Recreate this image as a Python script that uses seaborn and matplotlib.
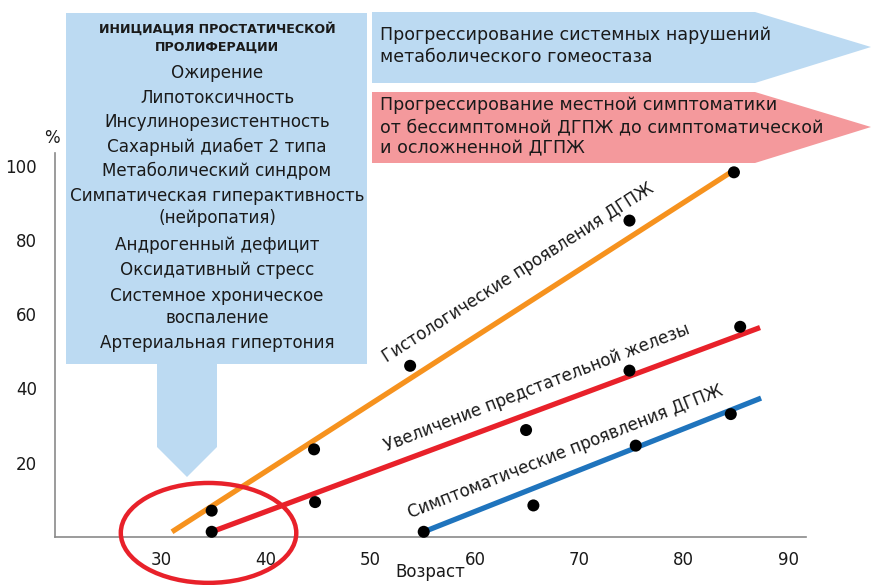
import matplotlib
matplotlib.use("Agg")
import matplotlib.pyplot as plt
from matplotlib.patches import Polygon, Ellipse
import seaborn as sns
import pandas as pd

# --- data -----------------------------------------------------------------
# observed prevalence (%) by age
hist_age = [34.8, 44.6, 53.8, 74.8, 84.8]
hist_pct = [7.1, 23.6, 46.1, 85.2, 98.2]
enl_age = [34.8, 44.7, 64.9, 74.8, 85.4]
enl_pct = [1.4, 9.4, 28.8, 44.8, 56.6]
sym_age = [55.1, 65.6, 75.4, 84.5]
sym_pct = [1.4, 8.5, 24.6, 33.1]

# trend lines (start / end)
hist_trend_age = [31.0, 84.6]
hist_trend_pct = [1.4, 98.4]
enl_trend_age = [34.8, 87.3]
enl_trend_pct = [1.4, 56.4]
sym_trend_age = [55.1, 87.4]
sym_trend_pct = [1.4, 37.4]

x_ticks = [30, 40, 50, 60, 70, 80, 90]
y_ticks = [20, 40, 60, 80, 100]

label_hist = "Гистологические проявления ДГПЖ"
label_enl = "Увеличение предстательной железы"
label_sym = "Симптоматические проявления ДГПЖ"

box_title = "ИНИЦИАЦИЯ ПРОСТАТИЧЕСКОЙ\nПРОЛИФЕРАЦИИ"
box_items = [
    "Ожирение",
    "Липотоксичность",
    "Инсулинорезистентность",
    "Сахарный диабет 2 типа",
    "Метаболический синдром",
    "Симпатическая гиперактивность\n(нейропатия)",
    "Андрогенный дефицит",
    "Оксидативный стресс",
    "Системное хроническое\nвоспаление",
    "Артериальная гипертония",
]
arrow_blue_text = "Прогрессирование системных нарушений\nметаболического гомеостаза"
arrow_red_text = ("Прогрессирование местной симптоматики\n"
                  "от бессимптомной ДГПЖ до симптоматической\n"
                  "и осложненной ДГПЖ")

# --- style ----------------------------------------------------------------
sns.set_theme(style="white")
plt.rcParams["font.family"] = ["DejaVu Sans"]

ORANGE = "#f6921e"
RED = "#e8212a"
BLUE = "#1f74bd"
LIGHT_BLUE = "#bcdaf2"
PINK = "#f4999c"
AXIS_GREY = "#8a8a8a"
TXT = "#1a1a1a"

W, H = 871, 585
fig = plt.figure(figsize=(W / 100, H / 100), dpi=100)


def fx(x):
    return x / W


def fy(y):
    return 1 - y / H


def fp(x, y):
    return (fx(x), fy(y))


ax = fig.add_axes([fx(55), fy(537), fx(806) - fx(55), fy(153) - fy(537)])

lines = pd.DataFrame({
    "age": hist_trend_age + enl_trend_age + sym_trend_age,
    "pct": hist_trend_pct + enl_trend_pct + sym_trend_pct,
    "series": ["hist"] * 2 + ["enl"] * 2 + ["sym"] * 2,
})
palette = {"hist": ORANGE, "enl": RED, "sym": BLUE}
sns.lineplot(data=lines, x="age", y="pct", hue="series", palette=palette,
             linewidth=3.8, legend=False, ax=ax, zorder=2,
             solid_capstyle="butt")

points = pd.DataFrame({
    "age": hist_age + enl_age + sym_age,
    "pct": hist_pct + enl_pct + sym_pct,
})
sns.scatterplot(data=points, x="age", y="pct", color="black", s=75,
                edgecolor="none", ax=ax, zorder=3, clip_on=False)

ax.set_xlim(19.8, 91.7)
ax.set_ylim(0, 103.4)
ax.set_xticks(x_ticks)
ax.set_yticks(y_ticks)
ax.set_xlabel("")
ax.set_ylabel("")
for side in ("top", "right"):
    ax.spines[side].set_visible(False)
for side in ("left", "bottom"):
    ax.spines[side].set_color(AXIS_GREY)
    ax.spines[side].set_linewidth(1.2)
ax.tick_params(axis="both", direction="in", length=6, width=1.0,
               color=AXIS_GREY, labelsize=12, labelcolor=TXT)
ax.tick_params(axis="x", pad=10)
ax.tick_params(axis="y", pad=13)
ax.patch.set_alpha(0)

# circled starting region
ax.add_patch(Ellipse((34.5, 1.1), 16.8, 26.9, fill=False, edgecolor=RED,
                     linewidth=3.2, clip_on=False, zorder=4))

# rotated line labels
ax.text(64.1, 71.1, label_hist, rotation=32.6, rotation_mode="anchor",
        ha="center", va="center", fontsize=12, color=TXT)
ax.text(65.9, 40.1, label_enl, rotation=21.2, rotation_mode="anchor",
        ha="center", va="center", fontsize=12, color=TXT)
ax.text(68.7, 22.9, label_sym, rotation=21.5, rotation_mode="anchor",
        ha="center", va="center", fontsize=12, color=TXT)

fig.text(fx(52), fy(138), "%", ha="center", va="center", fontsize=12,
         color=TXT)
fig.text(fx(430), fy(572), "Возраст", ha="center", va="center",
         fontsize=12, color=TXT)

# left factor box with down arrow
left_box = [fp(66, 13), fp(367, 13), fp(367, 364), fp(217, 364),
            fp(217, 447), fp(187, 477), fp(157, 447), fp(157, 364),
            fp(66, 364)]
fig.patches.append(Polygon(left_box, closed=True, transform=fig.transFigure,
                           facecolor=LIGHT_BLUE, edgecolor="none", zorder=1))

fig.text(fx(217), fy(38), box_title, ha="center", va="center",
         fontsize=9.1, fontweight="bold", color=TXT, linespacing=1.5,
         zorder=2)
item_y = [73, 98, 122, 147, 171, 207, 245, 270, 307, 343]
for yy, item in zip(item_y, box_items):
    fig.text(fx(217), fy(yy), item, ha="center", va="center", fontsize=12.1,
             color=TXT, linespacing=1.3, zorder=2)

# progression arrows
blue_arrow = [fp(372, 12), fp(755, 12), fp(871, 47), fp(755, 83),
              fp(372, 83)]
red_arrow = [fp(372, 92), fp(755, 92), fp(871, 127), fp(755, 163),
             fp(372, 163)]
fig.patches.append(Polygon(blue_arrow, closed=True, transform=fig.transFigure,
                           facecolor=LIGHT_BLUE, edgecolor="none", zorder=1))
fig.patches.append(Polygon(red_arrow, closed=True, transform=fig.transFigure,
                           facecolor=PINK, edgecolor="none", zorder=1))
fig.text(fx(380), fy(46), arrow_blue_text, ha="left", va="center",
         fontsize=12.6, color=TXT, linespacing=1.35, zorder=2)
fig.text(fx(380), fy(127), arrow_red_text, ha="left", va="center",
         fontsize=12.6, color=TXT, linespacing=1.25, zorder=2)

fig.savefig("out.png", dpi=100)
